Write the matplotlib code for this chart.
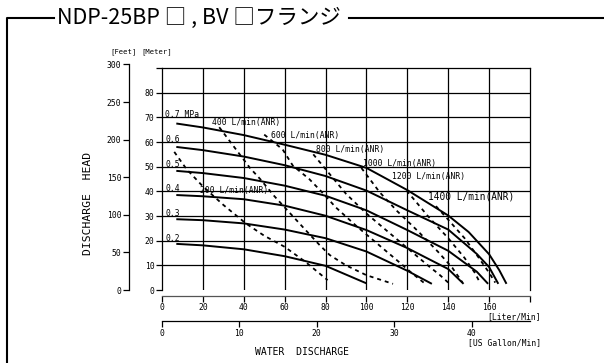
import matplotlib
matplotlib.use('Agg')
import matplotlib.pyplot as plt
from matplotlib.lines import Line2D

# ---------------- data (flow in L/min, head in m) ----------------
flow_07 = [7, 20, 40, 60, 80, 100, 120, 140, 150, 160, 165, 168.5]
head_07 = [67.5, 65.9, 62.8, 58.9, 54.8, 49.5, 40.5, 30.2, 23.5, 14.5, 8, 2.5]
flow_06 = [7, 20, 40, 60, 80, 100, 120, 140, 154, 160, 164.5]
head_06 = [58, 56.7, 54.1, 50.6, 46.2, 40.3, 32.3, 24.5, 14.6, 9.3, 2.5]
flow_05 = [7, 20, 40, 60, 80, 100, 120, 140, 154, 159.5]
head_05 = [48.3, 47.4, 45.4, 42.3, 38.2, 32.3, 24.3, 15.9, 7.4, 2.5]
flow_04 = [7, 20, 40, 60, 80, 100, 120, 140, 147.5]
head_04 = [38.5, 38.0, 36.8, 34.2, 30.1, 24.3, 17, 8.5, 2.5]
flow_03 = [7, 20, 40, 60, 80, 100, 120, 132]
head_03 = [28.7, 28.3, 27.0, 24.5, 21, 15.6, 7.8, 2.5]
flow_02 = [7, 20, 40, 60, 80, 100]
head_02 = [18.7, 18.1, 16.5, 13.7, 9.8, 2.7]

pressure_labels = ["0.7 MPa", "0.6", "0.5", "0.4", "0.3", "0.2"]
pressure_label_head = [70, 60, 50, 40, 30, 20]

air_200_flow = [6, 12, 20, 30, 41, 50, 60, 70, 81]
air_200_head = [56, 49, 42, 34.5, 27, 22, 17.5, 11.5, 4]
air_400_flow = [28, 33, 38, 43, 48, 55, 62, 70, 77, 82, 90, 100, 113]
air_400_head = [66, 60.5, 55, 49.5, 45, 38, 31.7, 24.5, 18.3, 14.2, 10, 6, 2.5]
air_600_flow = [50, 59, 64, 72, 79, 85, 95, 105, 115, 122, 128]
air_600_head = [63, 57, 50.4, 45, 39, 33.5, 26, 19, 12, 7, 3]
air_800_flow = [74, 79, 84, 90, 100, 110, 120, 130, 136, 140]
air_800_head = [55, 50, 45, 39, 31, 24, 17, 10, 6, 3]
air_1000_flow = [97.5, 101.6, 106.5, 115, 125, 135, 142, 147]
air_1000_head = [49.5, 45, 39.6, 32, 24, 15.5, 9, 3]
air_1200_flow = [119.6, 124, 130, 140, 148, 153, 155.5]
air_1200_head = [40.3, 36, 30, 21, 13, 7, 3]
air_1400_flow = [134, 140, 148, 155, 160, 163]
air_1400_head = [34, 28.5, 21, 13, 7, 3]

air_labels = ["200 L/min(ANR)", "400 L/min(ANR)", "600 L/min(ANR)", "800 L/min(ANR)",
              "1000 L/min(ANR)", "1200 L/min(ANR)", "1400 L/min(ANR)"]
air_label_flow = [18.4, 24.5, 53.5, 75.5, 98.4, 112.7, 130.2]
air_label_head = [40.5, 68, 62.8, 56.8, 51.4, 46, 38]

liter_ticks = [0, 20, 40, 60, 80, 100, 120, 140, 160, 180]
liter_ticklabels = ["0", "20", "40", "60", "80", "100", "120", "140", "160", ""]
meter_ticks = [0, 10, 20, 30, 40, 50, 60, 70, 80, 90]
meter_ticklabels = ["0", "10", "20", "30", "40", "50", "60", "70", "80", ""]
feet_ticks = [0, 50, 100, 150, 200, 250, 300]
gallon_ticks = [0, 10, 20, 30, 40]

title = "NDP-25BP \u25a1 , BV \u25a1フランジ"

# ---------------- layout ----------------
W, H = 604, 363
fig = plt.figure(figsize=(W / 100, H / 100), dpi=100)
fig.patch.set_facecolor('white')


def fx(px):
    return px / W


def fy(py):
    return 1 - py / H


MONO = ['DejaVu Sans Mono']
FS = 5.8

X0, X1, Y0, Y1 = 162, 530, 290, 68
ax = fig.add_axes([fx(X0), fy(Y0), (X1 - X0) / W, (Y0 - Y1) / H])
ax.set_xlim(0, 180)
ax.set_ylim(0, 90)
for g in meter_ticks[1:-1]:
    ax.axhline(g, color='black', lw=0.9, zorder=1)
for g in liter_ticks[1:-1]:
    ax.axvline(g, color='black', lw=0.9, zorder=1)
for s in ['top', 'right', 'left', 'bottom']:
    ax.spines[s].set_linewidth(0.9)
ax.spines['bottom'].set_position(('outward', 4))
ax.spines['bottom'].set_color('#555555')
ax.set_xticks(liter_ticks)
ax.set_xticklabels(liter_ticklabels, fontfamily=MONO, fontsize=FS)
ax.set_yticks(meter_ticks)
ax.set_yticklabels(meter_ticklabels, fontfamily=MONO, fontsize=FS)
ax.tick_params(axis='both', direction='out', length=4, width=0.9, pad=1.5)

solid = dict(color='black', lw=1.4, solid_capstyle='butt', zorder=3)
for fl, hd in [(flow_07, head_07), (flow_06, head_06), (flow_05, head_05),
               (flow_04, head_04), (flow_03, head_03), (flow_02, head_02)]:
    ax.plot(fl, hd, **solid)

dashed = dict(color='black', lw=1.3, dashes=(2.2, 2.2), zorder=3)
for fl, hd in [(air_200_flow, air_200_head), (air_400_flow, air_400_head),
               (air_600_flow, air_600_head), (air_800_flow, air_800_head),
               (air_1000_flow, air_1000_head), (air_1200_flow, air_1200_head),
               (air_1400_flow, air_1400_head)]:
    ax.plot(fl, hd, **dashed)

for lab, hv in zip(pressure_labels, pressure_label_head):
    ax.text(1.5, hv + 1.0, lab, fontfamily=MONO, fontsize=FS, va='center', ha='left', zorder=4)

for i, (lab, lx, ly) in enumerate(zip(air_labels, air_label_flow, air_label_head)):
    fs = FS * 1.18 if i == len(air_labels) - 1 else FS
    ax.text(lx, ly, lab, fontfamily=MONO, fontsize=fs, va='center', ha='left', zorder=4)

# feet axis
feet_h_px = 300 * 0.3048 * (Y0 - Y1) / 90
axf = fig.add_axes([fx(129), fy(Y0), 0.0001, feet_h_px / H])
axf.set_ylim(0, 300)
axf.patch.set_visible(False)
for s in ['top', 'right', 'bottom']:
    axf.spines[s].set_visible(False)
axf.spines['left'].set_linewidth(0.9)
axf.set_xticks([])
axf.set_yticks(feet_ticks)
axf.set_yticklabels([str(t) for t in feet_ticks], fontfamily=MONO, fontsize=FS)
axf.tick_params(axis='y', direction='out', length=4, width=0.9, pad=1.5)

# gallon axis
axg = fig.add_axes([fx(X0), fy(321), (X1 - X0) / W, 0.0001])
axg.set_xlim(0, 180 / 3.7854)
axg.patch.set_visible(False)
for s in ['top', 'right', 'left']:
    axg.spines[s].set_visible(False)
axg.spines['bottom'].set_linewidth(0.9)
axg.set_yticks([])
axg.set_xticks(gallon_ticks)
axg.set_xticklabels([str(t) for t in gallon_ticks], fontfamily=MONO, fontsize=FS)
axg.tick_params(axis='x', direction='out', length=4, width=0.9, pad=1.5)

# texts
fig.text(fx(124), fy(52), "[Feet]", fontfamily=MONO, fontsize=5.2, ha='center', va='center')
fig.text(fx(157), fy(52), "[Meter]", fontfamily=MONO, fontsize=5.2, ha='center', va='center')
fig.text(fx(541), fy(317), "[Liter/Min]", fontfamily=MONO, fontsize=FS, ha='right', va='center')
fig.text(fx(541), fy(343), "[US Gallon/Min]", fontfamily=MONO, fontsize=FS, ha='right', va='center')
fig.text(fx(302), fy(352), "WATER  DISCHARGE", fontfamily=MONO, fontsize=7, ha='center', va='center')
fig.text(fx(88), fy(203), "DISCHARGE  HEAD", fontfamily=MONO, fontsize=8.2, ha='center', va='center',
         rotation=90)

# frame and title
frame_kw = dict(color='black', lw=1.5, transform=fig.transFigure, solid_capstyle='projecting')
fig.add_artist(Line2D([fx(7), fx(7), fx(54)], [fy(363), fy(18), fy(18)], **frame_kw))
fig.add_artist(Line2D([fx(349), fx(604)], [fy(18), fy(18)], **frame_kw))
fig.text(fx(57), fy(18), title, fontfamily=['Noto Sans CJK JP', 'DejaVu Sans'], fontsize=15.5,
         ha='left', va='center')

fig.savefig('out.png', dpi=100, facecolor='white')
